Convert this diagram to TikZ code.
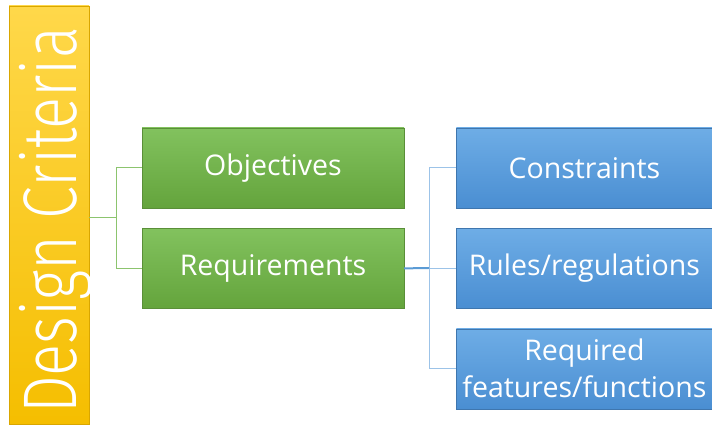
\documentclass[tikz,border=0pt]{standalone}
\usepackage{fontspec}
\setmainfont{Open Sans}
\newfontfamily\critfont{Fira Sans}[UprightFont=* Light]
\usetikzlibrary{positioning}
\definecolor{critTop}{HTML}{FFD84A}
\definecolor{critBot}{HTML}{F5BE00}
\definecolor{critEdge}{HTML}{D9A600}
\definecolor{greenTop}{HTML}{82C25E}
\definecolor{greenBot}{HTML}{64A43C}
\definecolor{greenEdge}{HTML}{5A8F38}
\definecolor{blueTop}{HTML}{6EADE6}
\definecolor{blueBot}{HTML}{4A8ED2}
\definecolor{blueEdge}{HTML}{3F76AE}
\definecolor{greenLine}{HTML}{8CC46E}
\definecolor{blueLine}{HTML}{5B9BD5}
\definecolor{blueLineLight}{HTML}{9CC3E8}

\begin{document}
\begin{tikzpicture}[x=1pt, y=1pt, critnode/.style={rectangle, draw=critEdge, top color=critTop, bottom color=critBot, minimum width=80pt, minimum height=418pt, inner sep=0pt, text=white}, greennode/.style={rectangle, draw=greenEdge, top color=greenTop, bottom color=greenBot, minimum width=262pt, minimum height=80pt, inner sep=2pt, text=white, font=\fontsize{28.5}{37}\selectfont}, bluenode/.style={rectangle, draw=blueEdge, top color=blueTop, bottom color=blueBot, minimum width=256pt, minimum height=80pt, inner sep=2pt, text=white, align=center, font=\fontsize{28.5}{37}\selectfont}, greenline/.style={draw=greenLine, line width=1pt}, blueline/.style={draw=blueLineLight, line width=1pt}]
    \useasboundingbox (0,0) rectangle (712,427);

    %Nodes
    \node[critnode](criteria) at (49,212){\hspace*{7pt}\rotatebox{90}{\scalebox{0.785}[1]{\critfont\fontsize{76}{80}\selectfont Design Criteria\hspace*{14pt}}}\hspace*{-7pt}};
    \node[greennode](objectives) at (273,259){Objectives};
    \node[greennode](requirements)[below=20pt of objectives]{Requirements};
    \node[bluenode](constraints)[right=52pt of objectives]{Constraints};
    \node[bluenode](rules)[below=20pt of constraints]{Rules/regulations};
    \node[bluenode](features)[below=20pt of rules]{Required\\features/functions};
    \coordinate(gjoin) at (116,209);
    \coordinate(bjoin) at (429,159);

    %Lines
    \draw[greenline] (criteria.east |- gjoin) -- (gjoin);
    \draw[greenline] (gjoin) |- (objectives.west);
    \draw[greenline] (gjoin) |- (requirements.west);
    \draw[blueline] (bjoin) |- (constraints.west);
    \draw[blueline] (bjoin) |- (rules.west);
    \draw[blueline] (bjoin) |- (features.west);
    \draw[draw=blueLine, line width=2pt] (requirements.east) -- (bjoin);

\end{tikzpicture}
\end{document}
